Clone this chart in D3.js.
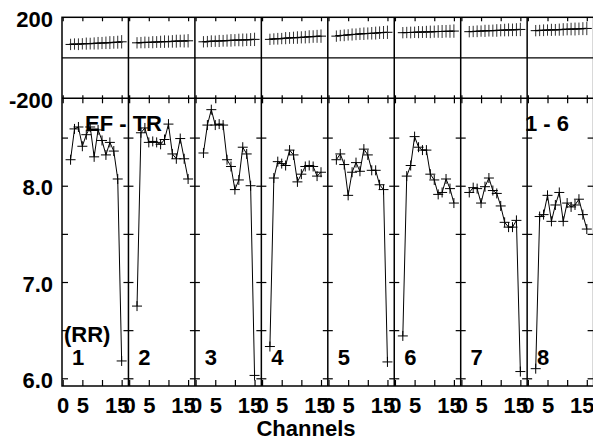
<!DOCTYPE html>
<html><head><meta charset="utf-8">
<script src="https://cdn.jsdelivr.net/npm/d3@7"></script>
<style>
body{margin:0;background:#fff}
svg{display:block}
text{font-family:"Liberation Sans",Arial,Helvetica,sans-serif;font-weight:bold;fill:#000}
</style>
</head><body>
<svg id="chart" width="593" height="440"></svg>
<script>
// ---------------- data ----------------
const channels = [2,3,4,5,6,7,8,9,10,11,12,13,14,15];
const panelLabels = ["1","2","3","4","5","6","7","8"];

// lower panel (RR), one array per group, channels 2..15
const rr1 = [8.27,8.59,8.61,8.41,8.53,8.61,8.30,8.58,8.47,8.32,8.45,8.36,8.07,6.18];
const rr2 = [6.75,8.55,8.60,8.45,8.46,8.45,8.43,8.48,8.64,8.33,8.28,8.49,8.28,8.07];
const rr3 = [8.34,8.63,8.79,8.63,8.64,8.63,8.27,8.20,7.96,8.06,8.40,8.33,8.00,6.03];
const rr4 = [6.33,8.08,8.25,8.23,8.21,8.37,8.32,8.04,8.12,8.20,8.21,8.20,8.10,8.14];
const rr5 = [8.27,8.33,8.22,7.90,8.14,8.24,8.15,8.38,8.32,8.16,8.16,8.01,7.96,6.17];
const rr6 = [6.44,8.10,8.21,8.51,8.40,8.37,8.37,8.12,8.06,7.91,7.93,8.07,7.97,7.82];
const rr7 = [7.93,7.98,7.97,7.82,7.99,8.08,7.95,7.92,7.79,7.62,7.57,7.57,7.64,6.07];
const rr8 = [6.10,7.68,7.70,7.90,7.63,7.80,7.93,7.63,7.82,7.78,7.80,7.86,7.70,7.55];

// upper panel, one array per group, channels 2..15
const up1 = [66,68,67,69,70,70,71,72,73,74,75,76,77,79];
const up2 = [74,75,76,76,77,78,79,80,80,81,82,83,83,84];
const up3 = [79,80,82,82,83,84,85,86,87,88,88,89,90,91];
const up4 = [91,93,94,95,97,98,99,100,101,102,104,105,106,107];
const up5 = [107,110,111,113,115,116,118,119,120,121,122,124,125,126];
const up6 = [124,125,125,126,127,127,128,128,129,130,130,131,131,132];
const up7 = [129,130,131,132,133,134,134,135,136,137,138,138,139,140];
const up8 = [134,135,136,137,138,138,139,140,141,142,142,143,144,145];
// upper panel error half-widths per channel
const upErr = [28,28,29,28,30,29,30,31,30,31,32,31,32,33];

const xTickValues = [0,5,10,15];
const xTickLabelValues = [0,5,15];
const mainYTicks = [6.0,6.5,7.0,7.5,8.0,8.5];
const mainYLabels = [6.0,7.0,8.0];
const topYLabels = [200,-200];
const xTitle = "Channels";
const noteLeft = "EF - TR";
const noteRight = "1 - 6";
const unitLabel = "(RR)";

const rrSeries = [rr1,rr2,rr3,rr4,rr5,rr6,rr7,rr8];
const upSeries = [up1,up2,up3,up4,up5,up6,up7,up8];

// ---------------- layout ----------------
const L = 62, R = 593.6, T = 17.3, MID = 98.3, B = 386;
const nP = panelLabels.length;
const pw = (R - L) / nP;
const FS = 22;

const svg = d3.select("#chart");
const panelX = d3.scaleBand().domain(panelLabels).range([L, R]).paddingInner(0).paddingOuter(0);
const xFor = i => d3.scaleLinear().domain([-0.18, 16.73]).range([panelX(panelLabels[i]), panelX(panelLabels[i]) + pw]);

const yTop = d3.scaleLinear().domain([-200, 200]).range([MID, T]);
const yMain = d3.scaleLinear().domain([5.92, 8.908]).range([B, MID]);

const strip = g => g.select(".domain").remove();

// frame
const frame = svg.append("g").attr("stroke","#000").attr("fill","none");
frame.append("rect").attr("x",L).attr("y",T).attr("width",R-L).attr("height",B-T).attr("stroke-width",1.5);
frame.append("line").attr("x1",L).attr("x2",R).attr("y1",MID).attr("y2",MID).attr("stroke-width",1.5);
frame.append("line").attr("x1",L).attr("x2",R).attr("y1",yTop(0)).attr("y2",yTop(0)).attr("stroke-width",1.2);
panelLabels.slice(1).forEach(p=>{
  frame.append("line").attr("x1",panelX(p)).attr("x2",panelX(p)).attr("y1",T).attr("y2",B).attr("stroke-width",1.5);
});

// x axes per panel
panelLabels.forEach((p,i)=>{
  const x = xFor(i);
  const gb = svg.append("g").attr("transform",`translate(0,${B})`)
    .call(d3.axisBottom(x).tickValues(xTickValues).tickSize(-6)
      .tickFormat(d => xTickLabelValues.includes(d) ? String(d) : ""))
    .call(strip);
  gb.selectAll(".tick line").attr("stroke","#000").attr("stroke-width",1.2);
  gb.selectAll(".tick text").attr("y",27.3).attr("dy",null)
    .attr("font-size",FS).attr("font-family",null)
    .attr("dx", d => d === 15 ? -5 : 0);
  svg.append("g").attr("transform",`translate(0,${MID})`)
    .call(d3.axisTop(x).tickValues(xTickValues).tickSize(-5).tickFormat(""))
    .call(strip).selectAll(".tick line").attr("stroke","#000").attr("stroke-width",1.2);
  svg.append("g").attr("transform",`translate(0,${MID})`)
    .call(d3.axisBottom(x).tickValues(xTickValues).tickSize(-3).tickFormat(""))
    .call(strip).selectAll(".tick line").attr("stroke","#000").attr("stroke-width",1.2);
  svg.append("g").attr("transform",`translate(0,${T})`)
    .call(d3.axisTop(x).tickValues(xTickValues).tickSize(-4).tickFormat(""))
    .call(strip).selectAll(".tick line").attr("stroke","#000").attr("stroke-width",1.2);
});

// y axes
const gl = svg.append("g").attr("transform",`translate(${L},0)`)
  .call(d3.axisLeft(yMain).tickValues(mainYTicks).tickSize(-6).tickPadding(15)
    .tickFormat(d => mainYLabels.includes(d) ? d3.format(".1f")(d) : ""))
  .call(strip);
gl.selectAll(".tick line").attr("stroke","#000").attr("stroke-width",1.2);
gl.selectAll(".tick text").attr("x",-9).attr("dy","0.42em").attr("font-size",FS).attr("font-family",null);

const gt = svg.append("g").attr("transform",`translate(${L},0)`)
  .call(d3.axisLeft(yTop).tickValues(topYLabels).tickSize(0).tickPadding(9).tickFormat(d => String(d)))
  .call(strip);
gt.selectAll(".tick text").attr("dy","0.42em").attr("font-size",FS).attr("font-family",null);

panelLabels.slice(1).forEach(p=>{
  const xx = panelX(p);
  [d3.axisLeft, d3.axisRight].forEach(ax=>{
    svg.append("g").attr("transform",`translate(${xx},0)`)
      .call(ax(yMain).tickValues(mainYTicks).tickSize(5).tickFormat(""))
      .call(strip).selectAll(".tick line").attr("stroke","#000").attr("stroke-width",1.2);
  });
});
svg.append("g").attr("transform",`translate(${R},0)`)
  .call(d3.axisLeft(yMain).tickValues(mainYTicks).tickSize(6).tickFormat(""))
  .call(strip).selectAll(".tick line").attr("stroke","#000").attr("stroke-width",1.2);

// ---------------- data marks ----------------
const plusH = 5, plusV = 5;
rrSeries.forEach((vals,i)=>{
  const x = xFor(i);
  const pts = channels.map((c,k)=>({c, v: vals[k]}));
  const g = svg.append("g");
  g.append("path").datum(pts)
    .attr("d", d3.line().x(d=>x(d.c)).y(d=>yMain(d.v)))
    .attr("fill","none").attr("stroke","#000").attr("stroke-width",1);
  const m = g.selectAll(".m").data(pts).join("g").attr("class","m")
    .attr("transform",d=>`translate(${x(d.c)},${yMain(d.v)})`);
  m.append("line").attr("x1",-plusH).attr("x2",plusH).attr("stroke","#000").attr("stroke-width",1);
  m.append("line").attr("y1",-plusV).attr("y2",plusV).attr("stroke","#000").attr("stroke-width",1);
});

upSeries.forEach((vals,i)=>{
  const x = xFor(i);
  const pts = channels.map((c,k)=>({c, v: vals[k], e: upErr[k]}));
  const g = svg.append("g");
  g.append("path").datum(pts)
    .attr("d", d3.line().x(d=>x(d.c)).y(d=>yTop(d.v)))
    .attr("fill","none").attr("stroke","#000").attr("stroke-width",1.2);
  const m = g.selectAll(".m").data(pts).join("g").attr("class","m");
  m.append("line").attr("x1",d=>x(d.c)-plusH).attr("x2",d=>x(d.c)+plusH)
    .attr("y1",d=>yTop(d.v)).attr("y2",d=>yTop(d.v)).attr("stroke","#000").attr("stroke-width",1);
  m.append("line").attr("x1",d=>x(d.c)).attr("x2",d=>x(d.c))
    .attr("y1",d=>yTop(d.v+d.e)).attr("y2",d=>yTop(d.v-d.e)).attr("stroke","#333").attr("stroke-width",1);
});

// ---------------- texts ----------------
panelLabels.forEach((p,i)=>{
  svg.append("text").attr("x",panelX(p)+16).attr("y",365).attr("text-anchor","middle")
    .attr("font-size",FS).text(p);
});
svg.append("text").attr("x",85).attr("y",131).attr("font-size",FS).text(noteLeft);
svg.append("text").attr("x",547).attr("y",131).attr("text-anchor","middle").attr("font-size",FS).text(noteRight);
svg.append("text").attr("x",64).attr("y",341.5).attr("font-size",FS).text(unitLabel);
svg.append("text").attr("x",306).attr("y",436).attr("text-anchor","middle").attr("font-size",FS).text(xTitle);
</script>
</body></html>
